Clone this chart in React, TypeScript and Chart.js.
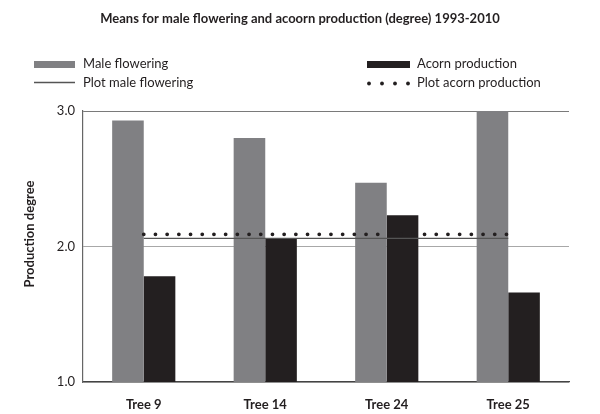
import React, { useEffect, useRef } from "react";
import { Chart, registerables } from "chart.js";

Chart.register(...registerables);

const categories = ["Tree 9", "Tree 14", "Tree 24", "Tree 25"];
const maleFlowering = [2.93, 2.8, 2.47, 3.0];
const acornProduction = [1.78, 2.06, 2.23, 1.66];
const plotMaleFlowering = [2.06, 2.06, 2.06, 2.06];
const plotAcornProduction = [2.09, 2.09, 2.09, 2.09];
const yTicks = [1, 2, 3];

const chartTitle = "Means for male flowering and acoorn production (degree) 1993-2010";
const yTitle = "Production degree";
const legendLabels = ["Male flowering", "Plot male flowering", "Acorn production", "Plot acorn production"];

const GRAY = "#808083";
const BLACK = "#231f20";
const FONT = "Lato, 'Open Sans', sans-serif";

const decorPlugin = {
  id: "decor",
  afterDraw(chart: any) {
    const ctx = chart.ctx as CanvasRenderingContext2D;
    ctx.save();
    // title
    ctx.fillStyle = "#231f20";
    ctx.font = `bold 13px ${FONT}`;
    ctx.textAlign = "center";
    ctx.textBaseline = "middle";
    ctx.fillText(chartTitle, 300, 19);

    // legend
    ctx.font = `13px ${FONT}`;
    ctx.textAlign = "left";
    ctx.fillStyle = GRAY;
    ctx.fillRect(34, 61, 41, 7);
    ctx.strokeStyle = "#555";
    ctx.lineWidth = 1.3;
    ctx.beginPath();
    ctx.moveTo(34, 82.5);
    ctx.lineTo(75, 82.5);
    ctx.stroke();
    ctx.fillStyle = BLACK;
    ctx.fillRect(367, 61, 43, 7);
    for (let i = 0; i < 4; i++) {
      ctx.beginPath();
      ctx.arc(369 + i * 13, 83.5, 1.9, 0, Math.PI * 2);
      ctx.fill();
    }
    ctx.fillStyle = "#231f20";
    ctx.fillText(legendLabels[0], 83, 63.5);
    ctx.fillText(legendLabels[1], 83, 83);
    ctx.fillText(legendLabels[2], 417, 63.5);
    ctx.fillText(legendLabels[3], 417, 83);

    // y axis title
    ctx.font = `bold 13px ${FONT}`;
    ctx.translate(30, 234);
    ctx.rotate(-Math.PI / 2);
    ctx.textAlign = "center";
    ctx.fillText(yTitle, 0, 0);
    ctx.restore();
  },
};

export default function App() {
  const canvasRef = useRef<HTMLCanvasElement | null>(null);

  useEffect(() => {
    if (!canvasRef.current) return;
    const chart = new Chart(canvasRef.current, {
      type: "bar",
      data: {
        labels: categories,
        datasets: [
          {
            type: "line",
            label: legendLabels[1],
            data: plotMaleFlowering,
            borderColor: "#555",
            borderWidth: 1.4,
            pointRadius: 0,
            order: 0,
          } as any,
          {
            type: "line",
            label: legendLabels[3],
            data: plotAcornProduction,
            borderColor: BLACK,
            borderWidth: 3.8,
            borderDash: [0, 11.7],
            borderCapStyle: "round",
            pointRadius: 0,
            order: 0,
          } as any,
          {
            label: legendLabels[0],
            data: maleFlowering,
            backgroundColor: GRAY,
            categoryPercentage: 0.52,
            barPercentage: 1,
            order: 1,
          },
          {
            label: legendLabels[2],
            data: acornProduction,
            backgroundColor: BLACK,
            categoryPercentage: 0.52,
            barPercentage: 1,
            order: 1,
          },
        ],
      },
      options: {
        animation: false,
        responsive: true,
        maintainAspectRatio: false,
        layout: { padding: { left: 0, right: 31, top: 111, bottom: 0 } },
        plugins: {
          legend: { display: false },
          title: { display: false },
          tooltip: { enabled: false },
        },
        scales: {
          x: {
            grid: { display: false },
            border: { display: true, color: "#444", width: 1.2 },
            ticks: {
              color: "#231f20",
              font: { family: FONT, size: 13, weight: "bold" },
              padding: 7,
            },
            afterFit: (axis: any) => {
              axis.height = 32;
            },
          },
          y: {
            min: 1,
            max: 3,
            afterBuildTicks: (axis: any) => {
              axis.ticks = yTicks.map((v) => ({ value: v }));
            },
            grid: {
              color: (c: any) => (c.tick && c.tick.value === 3 ? "#7a7a7a" : "#a8a8a8"),
              lineWidth: 1,
              drawTicks: false,
            },
            border: { display: true, color: "#666", width: 1.2 },
            ticks: {
              color: "#231f20",
              font: { family: FONT, size: 13 },
              padding: 8,
              callback: (v: any) => Number(v).toFixed(1),
            },
            afterFit: (axis: any) => {
              axis.width = 83;
            },
          },
        },
      },
      plugins: [decorPlugin],
    });
    return () => chart.destroy();
  }, []);

  return (
    <div style={{ position: "absolute", left: 0, top: 0, width: 600, height: 414, background: "#fff" }}>
      <canvas ref={canvasRef} />
    </div>
  );
}
